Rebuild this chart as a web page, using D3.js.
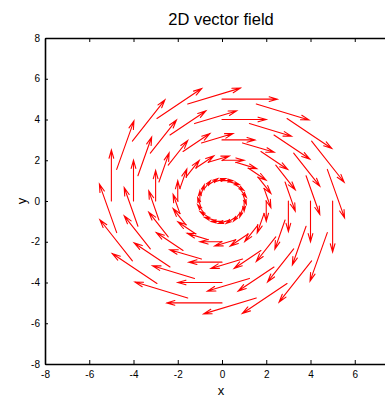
<!DOCTYPE html>
<html>
<head>
<meta charset="utf-8">
<script src="https://cdn.jsdelivr.net/npm/d3@7"></script>
<style>
  html, body { margin: 0; padding: 0; background: #fff; }
  svg { display: block; }
  text { font-family: "Liberation Sans", Arial, Helvetica, sans-serif; fill: #000; }
</style>
</head>
<body>
<svg id="chart" width="385" height="398"></svg>
<script>
// Arrow tail positions (x, y) and components (u, v), five rings of 20 arrows
const px = [
  1.00, 0.95, 0.81, 0.59, 0.31, 0.00, -0.31, -0.59, -0.81, -0.95, -1.00, -0.95, -0.81, -0.59, -0.31, 0.00, 0.31, 0.59, 0.81, 0.95,
  2.00, 1.90, 1.62, 1.18, 0.62, 0.00, -0.62, -1.18, -1.62, -1.90, -2.00, -1.90, -1.62, -1.18, -0.62, 0.00, 0.62, 1.18, 1.62, 1.90,
  3.00, 2.85, 2.43, 1.76, 0.93, 0.00, -0.93, -1.76, -2.43, -2.85, -3.00, -2.85, -2.43, -1.76, -0.93, 0.00, 0.93, 1.76, 2.43, 2.85,
  4.00, 3.80, 3.24, 2.35, 1.24, 0.00, -1.24, -2.35, -3.24, -3.80, -4.00, -3.80, -3.24, -2.35, -1.24, 0.00, 1.24, 2.35, 3.24, 3.80,
  5.00, 4.76, 4.05, 2.94, 1.55, 0.00, -1.55, -2.94, -4.05, -4.76, -5.00, -4.76, -4.05, -2.94, -1.55, 0.00, 1.55, 2.94, 4.05, 4.76
];
const py = [
  0.00, 0.31, 0.59, 0.81, 0.95, 1.00, 0.95, 0.81, 0.59, 0.31, 0.00, -0.31, -0.59, -0.81, -0.95, -1.00, -0.95, -0.81, -0.59, -0.31,
  0.00, 0.62, 1.18, 1.62, 1.90, 2.00, 1.90, 1.62, 1.18, 0.62, 0.00, -0.62, -1.18, -1.62, -1.90, -2.00, -1.90, -1.62, -1.18, -0.62,
  0.00, 0.93, 1.76, 2.43, 2.85, 3.00, 2.85, 2.43, 1.76, 0.93, 0.00, -0.93, -1.76, -2.43, -2.85, -3.00, -2.85, -2.43, -1.76, -0.93,
  0.00, 1.24, 2.35, 3.24, 3.80, 4.00, 3.80, 3.24, 2.35, 1.24, 0.00, -1.24, -2.35, -3.24, -3.80, -4.00, -3.80, -3.24, -2.35, -1.24,
  0.00, 1.55, 2.94, 4.05, 4.76, 5.00, 4.76, 4.05, 2.94, 1.55, 0.00, -1.55, -2.94, -4.05, -4.76, -5.00, -4.76, -4.05, -2.94, -1.55
];
const pu = [
  0.00, 0.15, 0.29, 0.40, 0.48, 0.50, 0.48, 0.40, 0.29, 0.15, 0.00, -0.15, -0.29, -0.40, -0.48, -0.50, -0.48, -0.40, -0.29, -0.15,
  0.00, 0.31, 0.59, 0.81, 0.95, 1.00, 0.95, 0.81, 0.59, 0.31, 0.00, -0.31, -0.59, -0.81, -0.95, -1.00, -0.95, -0.81, -0.59, -0.31,
  0.00, 0.46, 0.88, 1.21, 1.43, 1.50, 1.43, 1.21, 0.88, 0.46, 0.00, -0.46, -0.88, -1.21, -1.43, -1.50, -1.43, -1.21, -0.88, -0.46,
  0.00, 0.62, 1.18, 1.62, 1.90, 2.00, 1.90, 1.62, 1.18, 0.62, 0.00, -0.62, -1.18, -1.62, -1.90, -2.00, -1.90, -1.62, -1.18, -0.62,
  0.00, 0.78, 1.47, 2.02, 2.38, 2.50, 2.38, 2.02, 1.47, 0.78, 0.00, -0.78, -1.47, -2.02, -2.38, -2.50, -2.38, -2.02, -1.47, -0.78
];
const pv = [
  -0.50, -0.48, -0.40, -0.29, -0.15, 0.00, 0.15, 0.29, 0.40, 0.48, 0.50, 0.48, 0.40, 0.29, 0.15, 0.00, -0.15, -0.29, -0.40, -0.48,
  -1.00, -0.95, -0.81, -0.59, -0.31, 0.00, 0.31, 0.59, 0.81, 0.95, 1.00, 0.95, 0.81, 0.59, 0.31, 0.00, -0.31, -0.59, -0.81, -0.95,
  -1.50, -1.43, -1.21, -0.88, -0.46, 0.00, 0.46, 0.88, 1.21, 1.43, 1.50, 1.43, 1.21, 0.88, 0.46, 0.00, -0.46, -0.88, -1.21, -1.43,
  -2.00, -1.90, -1.62, -1.18, -0.62, 0.00, 0.62, 1.18, 1.62, 1.90, 2.00, 1.90, 1.62, 1.18, 0.62, 0.00, -0.62, -1.18, -1.62, -1.90,
  -2.50, -2.38, -2.02, -1.47, -0.78, 0.00, 0.78, 1.47, 2.02, 2.38, 2.50, 2.38, 2.02, 1.47, 0.78, 0.00, -0.78, -1.47, -2.02, -2.38
];

const xTicks = [-8, -6, -4, -2, 0, 2, 4, 6, 8];
const yTicks = [-8, -6, -4, -2, 0, 2, 4, 6, 8];
const titleText = "2D vector field";
const xLabel = "x";
const yLabel = "y";

const svg = d3.select("#chart");
const x = d3.scaleLinear().domain([-8, 8]).range([45, 399]);
const y = d3.scaleLinear().domain([-8, 8]).range([364, 38]);

// Vectors
const arrows = px.map((d, i) => ({ x0: d, y0: py[i], u: pu[i], v: pv[i] }));
const gv = svg.append("g")
  .attr("stroke", "#ff0000")
  .attr("stroke-width", 1.1)
  .attr("fill", "none")
  .attr("stroke-linecap", "round");

gv.selectAll("path.vec")
  .data(arrows)
  .join("path")
  .attr("class", "vec")
  .attr("d", d => {
    const sx = x(d.x0), sy = y(d.y0);
    const ex = x(d.x0 + d.u), ey = y(d.y0 + d.v);
    const dx = ex - sx, dy = ey - sy;
    const len = Math.hypot(dx, dy);
    const hl = Math.min(8.5, 0.5 * len);
    const ang = Math.atan2(dy, dx);
    const spread = 16 * Math.PI / 180;
    const h1x = ex - hl * Math.cos(ang - spread), h1y = ey - hl * Math.sin(ang - spread);
    const h2x = ex - hl * Math.cos(ang + spread), h2y = ey - hl * Math.sin(ang + spread);
    return `M${sx},${sy}L${ex},${ey}M${h1x},${h1y}L${ex},${ey}L${h2x},${h2y}`;
  });

// Axes: ticks point into the plot, mirrored along the top
const fmt = d => String(d);
const ax = svg.append("g").attr("transform", `translate(0,${y(-8)})`)
  .call(d3.axisBottom(x).tickValues(xTicks).tickSizeInner(-4).tickSizeOuter(0).tickPadding(7).tickFormat(fmt));
const ay = svg.append("g").attr("transform", `translate(${x(-8)},0)`)
  .call(d3.axisLeft(y).tickValues(yTicks).tickSizeInner(-3).tickSizeOuter(0).tickPadding(5).tickFormat(fmt));
const at = svg.append("g").attr("transform", `translate(0,${y(8)})`)
  .call(d3.axisTop(x).tickValues(xTicks).tickSizeInner(-4).tickSizeOuter(0).tickFormat(""));
const ar = svg.append("g").attr("transform", `translate(${x(8)},0)`)
  .call(d3.axisRight(y).tickValues(yTicks).tickSizeInner(-3).tickSizeOuter(0).tickFormat(""));

[ax, ay, at, ar].forEach(g => {
  g.select(".domain").attr("stroke", "#000").attr("stroke-width", 1.6);
  g.selectAll(".tick line").attr("stroke", "#000").attr("stroke-width", 1);
  g.selectAll(".tick text").attr("font-size", 10).attr("font-family", "Liberation Sans, Arial, sans-serif").attr("fill", "#000");
});
ax.selectAll(".tick").filter(d => d === 8).select("text").remove();

// Titles
svg.append("text")
  .attr("x", 221).attr("y", 25)
  .attr("text-anchor", "middle")
  .attr("font-size", 16.5)
  .text(titleText);

svg.append("text")
  .attr("x", 221).attr("y", 395)
  .attr("text-anchor", "middle")
  .attr("font-size", 13)
  .text(xLabel);

svg.append("text")
  .attr("transform", "translate(26,201) rotate(-90)")
  .attr("text-anchor", "middle")
  .attr("font-size", 13)
  .text(yLabel);
</script>
</body>
</html>
